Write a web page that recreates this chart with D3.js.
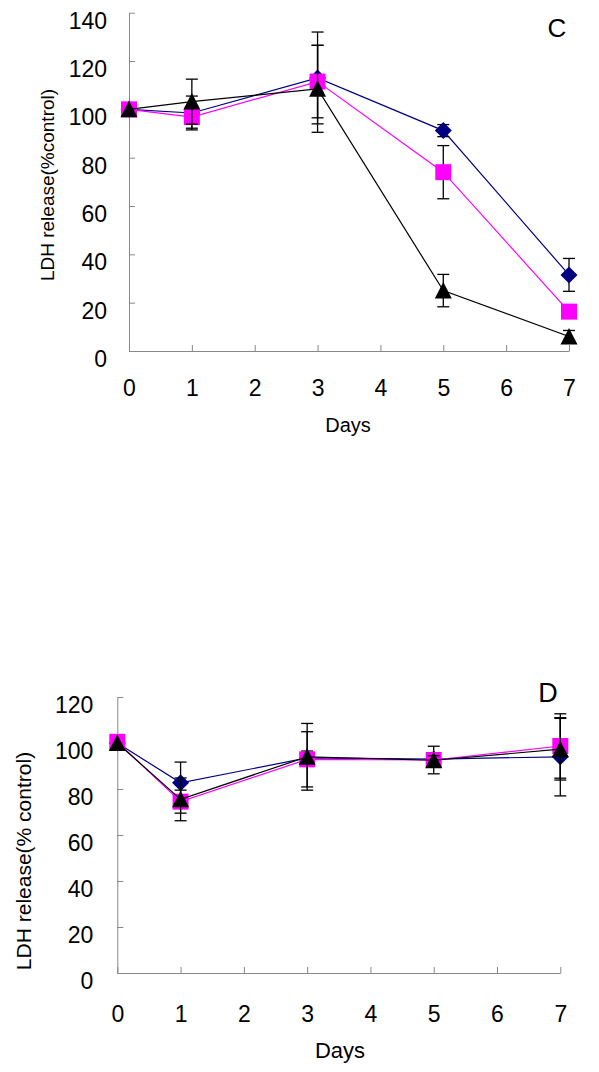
<!DOCTYPE html>
<html>
<head>
<meta charset="utf-8">
<script src="https://cdn.jsdelivr.net/npm/d3@7"></script>
<style>
  html, body { margin: 0; padding: 0; background: #fff; }
  svg { display: block; font-family: "Liberation Sans", Arial, sans-serif; }
</style>
</head>
<body>
<svg id="chart" width="599" height="1072"></svg>
<script>
// ---------- data ----------
const days = [0, 1, 3, 5, 7];
const xTicks = [0, 1, 2, 3, 4, 5, 6, 7];

// Panel C
const cYTicks = [0, 20, 40, 60, 80, 100, 120, 140];
const cDiamond = [100, 98.5, 113, 91.2, 31.5];
const cDiamondErr = [0, 7, 19, 2.5, 6.8];
const cSquare = [100, 96.8, 111.5, 74, 16.3];
const cSquareErr = [0, 4.6, 15, 11, 1];
const cTriangle = [100, 103.2, 108.5, 25, 6];
const cTriangleErr = [0, 9.3, 18, 6.7, 2.5];

// Panel D
const dYTicks = [0, 20, 40, 60, 80, 100, 120];
const dDiamond = [100, 82.7, 93.5, 93, 94];
const dDiamondErr = [0, 9, 3, 2, 17];
const dSquare = [100.5, 74.5, 92.9, 92.6, 98.7];
const dSquareErr = [0, 5, 12, 6, 14];
const dTriangle = [100, 75.5, 94, 92.5, 97.3];
const dTriangleErr = [0, 9.3, 14.5, 2, 13.4];

// ---------- drawing ----------
const svg = d3.select("#chart");
const axisColor = "#888888";

const shapes = {
  diamond: "M0,-8.5L8.5,0L0,8.5L-8.5,0Z",
  square: "M-8,-8L8,-8L8,8L-8,8Z",
  triangle: "M0,-8.5L8.5,8L-8.5,8Z"
};

function panel(cfg) {
  const x = d3.scaleLinear().domain([0, 7]).range([cfg.x0, cfg.x1]);
  const y = d3.scaleLinear().domain([0, cfg.yMax]).range([cfg.y0, cfg.y1]);
  const g = svg.append("g");

  // y axis
  const ya = g.append("g").attr("transform", `translate(${cfg.x0},0)`)
    .call(d3.axisLeft(y).tickValues(cfg.yTicks).tickFormat(d3.format("d"))
      .tickSizeInner(-6).tickSizeOuter(0).tickPadding(cfg.yPad));
  ya.selectAll("path,line").attr("stroke", axisColor);
  ya.selectAll("text").attr("font-size", cfg.tickFont).attr("fill", "#000")
    .attr("font-family", "Liberation Sans, Arial, sans-serif").attr("y", 8);

  // x axis
  const xa = g.append("g").attr("transform", `translate(0,${cfg.y0})`)
    .call(d3.axisBottom(x).tickValues(xTicks).tickFormat(d3.format("d"))
      .tickSizeInner(-6).tickSizeOuter(0).tickPadding(cfg.xPad));
  xa.selectAll("path,line").attr("stroke", axisColor);
  xa.selectAll("text").attr("font-size", cfg.tickFont).attr("fill", "#000")
    .attr("font-family", "Liberation Sans, Arial, sans-serif");

  // titles
  g.append("text").attr("x", cfg.daysX).attr("y", cfg.daysY)
    .attr("text-anchor", "middle").attr("font-size", cfg.titleFont).text("Days");
  g.append("text")
    .attr("transform", `translate(${cfg.yTitleX},${cfg.yTitleY}) rotate(-90)`)
    .attr("text-anchor", "middle").attr("dominant-baseline", "central")
    .attr("font-size", cfg.yTitleFont).text(cfg.yTitle);
  g.append("text").attr("x", cfg.letterX).attr("y", cfg.letterY)
    .attr("text-anchor", "middle").attr("dominant-baseline", "central")
    .attr("font-size", cfg.letterFont).text(cfg.letter);

  const line = d3.line().x((d, i) => x(days[i])).y(d => y(d));

  cfg.series.forEach(s => {
    const sg = g.append("g");
    sg.append("path").datum(s.values).attr("d", line)
      .attr("fill", "none").attr("stroke", s.color).attr("stroke-width", 1.2);
    // error bars
    s.values.forEach((v, i) => {
      const e = s.err[i];
      if (!e) return;
      const cx = x(days[i]);
      const eg = sg.append("g").attr("stroke", "#000").attr("stroke-width", 1.3);
      eg.append("line").attr("x1", cx).attr("x2", cx).attr("y1", y(v + e)).attr("y2", y(v - e));
      eg.append("line").attr("x1", cx - 6).attr("x2", cx + 6).attr("y1", y(v + e)).attr("y2", y(v + e));
      eg.append("line").attr("x1", cx - 6).attr("x2", cx + 6).attr("y1", y(v - e)).attr("y2", y(v - e));
    });
    sg.selectAll("path.mk").data(s.values).enter().append("path").attr("class", "mk")
      .attr("d", shapes[s.shape])
      .attr("transform", (d, i) => `translate(${x(days[i])},${y(d)})`)
      .attr("fill", s.fill);
  });
}

panel({
  x0: 129, x1: 569, y0: 351, y1: 12.7, yMax: 140, yTicks: cYTicks,
  yPad: 22, xPad: 29, tickFont: 23, titleFont: 20,
  daysX: 348, daysY: 432,
  yTitle: "LDH release(%control)", yTitleX: 47, yTitleY: 185, yTitleFont: 19,
  letter: "C", letterX: 557, letterY: 28, letterFont: 26,
  series: [
    { values: cDiamond, err: cDiamondErr, color: "#000080", fill: "#000080", shape: "diamond" },
    { values: cSquare, err: cSquareErr, color: "#FF00FF", fill: "#FF00FF", shape: "square" },
    { values: cTriangle, err: cTriangleErr, color: "#000000", fill: "#000000", shape: "triangle" }
  ]
});

panel({
  x0: 117.3, x1: 560.3, y0: 973, y1: 697, yMax: 120, yTicks: dYTicks,
  yPad: 24, xPad: 33, tickFont: 23, titleFont: 22,
  daysX: 340, daysY: 1058,
  yTitle: "LDH release(% control)", yTitleX: 23, yTitleY: 861, yTitleFont: 21,
  letter: "D", letterX: 548, letterY: 693, letterFont: 27,
  series: [
    { values: dDiamond, err: dDiamondErr, color: "#000080", fill: "#000080", shape: "diamond" },
    { values: dSquare, err: dSquareErr, color: "#FF00FF", fill: "#FF00FF", shape: "square" },
    { values: dTriangle, err: dTriangleErr, color: "#000000", fill: "#000000", shape: "triangle" }
  ]
});
</script>
</body>
</html>
